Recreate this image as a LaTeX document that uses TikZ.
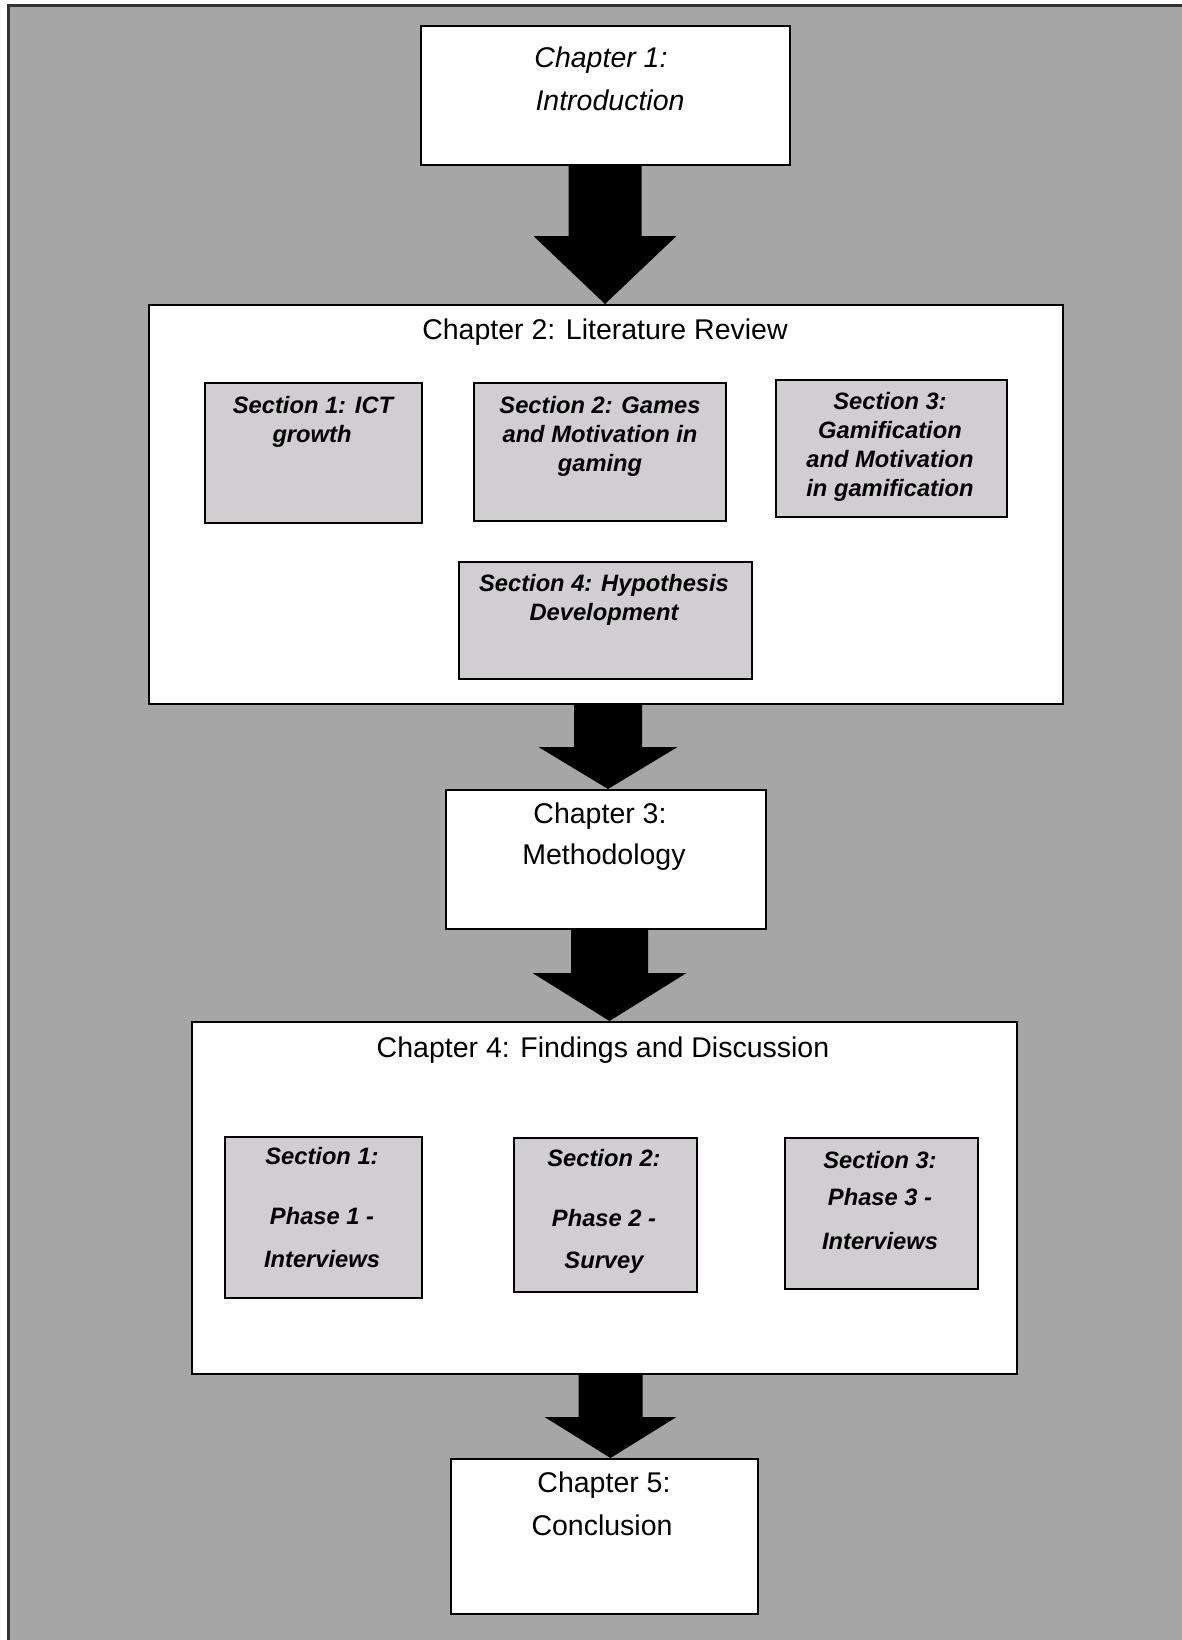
\documentclass[tikz,border=0pt]{standalone}
\usepackage{fontspec}
\setmainfont{Liberation Sans}
\usetikzlibrary{calc}
\definecolor{bggray}{RGB}{166,166,166}
\definecolor{secgray}{RGB}{208,206,208}
\definecolor{framecol}{RGB}{50,50,50}
\newcommand\blkarrow[6]{%
  \fill[black] ($(#1.south -| #2.north)+(#3-#4,0)$) -- ($(#1.south -| #2.north)+(#3+#4,0)$)
    -- ($(#2.north)+(#3+#4,-#6)$) -- ($(#2.north)+(#3+#5,-#6)$)
    -- ($(#2.north)+(#3,0)$)
    -- ($(#2.north)+(#3-#5,-#6)$) -- ($(#2.north)+(#3-#4,-#6)$) -- cycle;}
\begin{document}
\begin{tikzpicture}[x=1pt,y=-1pt,
  chap/.style={draw=black, line width=2pt, fill=white, inner sep=0pt, anchor=north west},
  sec/.style={draw=black, line width=2pt, fill=secgray, inner sep=0pt, anchor=north west},
  ct/.style={anchor=base, inner sep=0pt, font=\fontsize{28.5}{42}\selectfont},
  cti/.style={anchor=base, inner sep=0pt, font=\fontsize{28.5}{42}\selectfont\itshape},
  st/.style={anchor=base, inner sep=0pt, font=\fontsize{23.7}{30}\selectfont\bfseries\itshape}]
\useasboundingbox (0,0) rectangle (1182,1640);
\clip (0,0) rectangle (1182,1640);
% background panel
\fill[bggray] (8,6) rectangle (1200,1660);
\draw[framecol, line width=3pt] (8,1660) -- (8,6) -- (1200,6);

% chapter boxes
\node[chap, minimum width=369pt, minimum height=139pt] (c1) at (420,25) {};
\node[chap, minimum width=914pt, minimum height=399pt] (c2) at (148,304) {};
\node[chap, minimum width=320pt, minimum height=139pt] (c3) at (445,789) {};
\node[chap, minimum width=825pt, minimum height=352pt] (c4) at (191,1021) {};
\node[chap, minimum width=307pt, minimum height=155pt] (c5) at (450,1458) {};

% section boxes
\node[sec, minimum width=217pt, minimum height=140pt] (s21) at (204,382) {};
\node[sec, minimum width=252pt, minimum height=138pt] (s22) at (473,382) {};
\node[sec, minimum width=231pt, minimum height=137pt] (s23) at (775,379) {};
\node[sec, minimum width=293pt, minimum height=117pt] (s24) at (458,561) {};
\node[sec, minimum width=197pt, minimum height=161pt] (s41) at (224,1136) {};
\node[sec, minimum width=183pt, minimum height=154pt] (s42) at (513,1137) {};
\node[sec, minimum width=193pt, minimum height=151pt] (s43) at (784,1137) {};

% block arrows
\blkarrow{c1}{c2}{-1}{36.5}{71.5}{68}
\blkarrow{c2}{c3}{2}{34}{69.5}{42}
\blkarrow{c3}{c4}{5}{38.5}{77}{48}
\blkarrow{c4}{c5}{6}{32}{66}{41}

% chapter texts
\node[cti] (t1a) at (601,68) {Chapter 1:};
\node[cti] (t1b) at (610,111) {Introduction};
\node[ct] (t2) at (605,339) {Chapter 2: Literature Review};
\node[ct] (t3a) at (600,823) {Chapter 3:};
\node[ct] (t3b) at (604,864) {Methodology};
\node[ct] (t4) at (603,1057) {Chapter 4: Findings and Discussion};
\node[ct] (t5a) at (604,1492) {Chapter 5:};
\node[ct] (t5b) at (602,1535) {Conclusion};

% section texts, chapter 2
\node[st] (u1a) at (313,413) {Section 1: ICT};
\node[st] (u1b) at (312,442) {growth};
\node[st] (u2a) at (600,413) {Section 2: Games};
\node[st] (u2b) at (600,442) {and Motivation in};
\node[st] (u2c) at (600,471) {gaming};
\node[st] (u3a) at (890,409) {Section 3:};
\node[st] (u3b) at (890,438) {Gamification};
\node[st] (u3c) at (890,467) {and Motivation};
\node[st] (u3d) at (890,496) {in gamification};
\node[st] (u4a) at (604,591) {Section 4: Hypothesis};
\node[st] (u4b) at (604,620) {Development};

% section texts, chapter 4
\node[st] (v1a) at (322,1164) {Section 1:};
\node[st] (v1b) at (322,1224) {Phase 1 -};
\node[st] (v1c) at (322,1267) {Interviews};
\node[st] (v2a) at (604,1166) {Section 2:};
\node[st] (v2b) at (604,1226) {Phase 2 -};
\node[st] (v2c) at (604,1268) {Survey};
\node[st] (v3a) at (880,1168) {Section 3:};
\node[st] (v3b) at (880,1205) {Phase 3 -};
\node[st] (v3c) at (880,1249) {Interviews};
\end{tikzpicture}
\end{document}
